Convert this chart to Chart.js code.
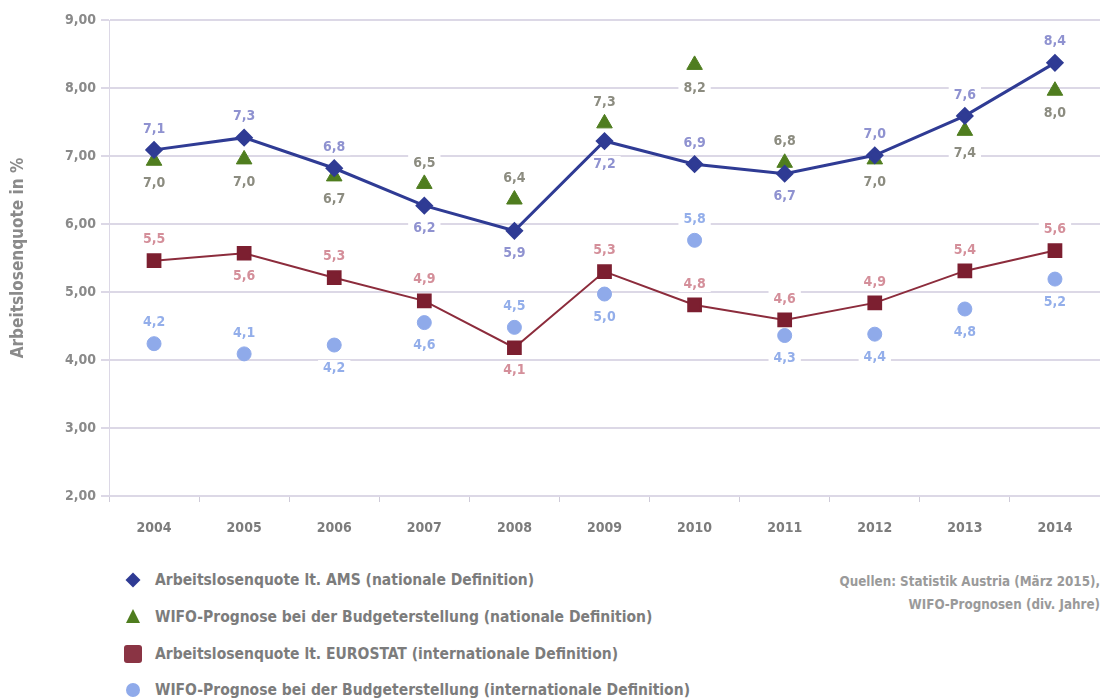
<!DOCTYPE html>
<html>
<head>
<meta charset="utf-8">
<script src="https://cdn.jsdelivr.net/npm/chart.js@4.4.1/dist/chart.umd.min.js"></script>
<style>
html,body{margin:0;padding:0;background:#fff;overflow:hidden;width:1100px;height:699px;}
#wrap{position:absolute;left:0;top:0;width:1111px;height:560px;}
#legend{position:absolute;left:122px;top:562px;font:bold 15.5px 'DejaVu Sans Condensed',sans-serif;color:#7c7c7c;}
#legend .item{height:36.7px;display:flex;align-items:center;white-space:nowrap;}
#legend svg{width:22px;height:22px;margin-right:11px;flex:none;}
#source{position:absolute;right:0;top:570px;font:bold 13.3px 'DejaVu Sans Condensed',sans-serif;color:#9a9a9a;text-align:right;line-height:23px;}
</style>
</head>
<body>
<div id="wrap"><canvas id="c"></canvas></div>
<div id="legend"></div>
<div id="source">Quellen: Statistik Austria (März 2015),<br>WIFO-Prognosen (div. Jahre)</div>
<script>
// ---- data ----
const years = ['2004','2005','2006','2007','2008','2009','2010','2011','2012','2013','2014'];
const amsRate          = [7.09, 7.27, 6.82, 6.27, 5.90, 7.22, 6.88, 6.74, 7.01, 7.59, 8.37];
const wifoNational     = [6.93, 6.95, 6.70, 6.59, 6.36, 7.48, 8.34, 6.90, 6.95, 7.37, 7.96];
const eurostatRate     = [5.46, 5.57, 5.21, 4.87, 4.18, 5.30, 4.81, 4.59, 4.84, 5.31, 5.61];
const wifoInternational= [4.24, 4.09, 4.22, 4.55, 4.48, 4.97, 5.76, 4.36, 4.38, 4.75, 5.19];
const amsLabels      = ['7,1','7,3','6,8','6,2','5,9','7,2','6,9','6,7','7,0','7,6','8,4'];
const wifoNatLabels  = ['7,0','7,0','6,7','6,5','6,4','7,3','8,2','6,8','7,0','7,4','8,0'];
const eurostatLabels = ['5,5','5,6','5,3','4,9','4,1','5,3','4,8','4,6','4,9','5,4','5,6'];
const wifoIntLabels  = ['4,2','4,1','4,2','4,6','4,5','5,0','5,8','4,3','4,4','4,8','5,2'];
// label placement: a = above point, b = below point
const amsSide      = ['a','a','a','b','b','b','a','b','a','a','a'];
const wifoNatSide  = ['b','b','b','a','a','a','b','a','b','b','b'];
const eurostatSide = ['a','b','a','a','b','a','a','a','a','a','a'];
const wifoIntSide  = ['a','a','b','b','a','b','a','b','b','b','b'];
const seriesNames = [
  'Arbeitslosenquote lt. AMS (nationale Definition)',
  'WIFO-Prognose bei der Budgeterstellung (nationale Definition)',
  'Arbeitslosenquote lt. EUROSTAT (internationale Definition)',
  'WIFO-Prognose bei der Budgeterstellung (internationale Definition)'
];
const yTitle = 'Arbeitslosenquote in %';

const FONT = "'DejaVu Sans Condensed', sans-serif";
const labelSets = [
  {text: amsLabels, side: amsSide, color: '#8f92d0'},
  {text: wifoNatLabels, side: wifoNatSide, color: '#8c8c80'},
  {text: eurostatLabels, side: eurostatSide, color: '#d48f9a'},
  {text: wifoIntLabels, side: wifoIntSide, color: '#93aeea'}
];

function labelPos(el, side){
  return {x: el.x, y: side === 'a' ? el.y - 21 : el.y + 23};
}

const valueLabels = {
  id: 'valueLabels',
  beforeDatasetsDraw(chart){
    const ctx = chart.ctx;
    ctx.save();
    ctx.font = 'bold 14px ' + FONT;
    ctx.fillStyle = '#ffffff';
    labelSets.forEach((ls, i) => {
      chart.getDatasetMeta(i).data.forEach((el, j) => {
        const p = labelPos(el, ls.side[j]);
        const w = ctx.measureText(ls.text[j]).width;
        ctx.fillRect(p.x - w/2 - 5, p.y - 8, w + 10, 16);
      });
    });
    ctx.restore();
  },
  afterDatasetsDraw(chart){
    const ctx = chart.ctx;
    ctx.save();
    ctx.font = 'bold 14px ' + FONT;
    ctx.textAlign = 'center';
    ctx.textBaseline = 'middle';
    labelSets.forEach((ls, i) => {
      ctx.fillStyle = ls.color;
      chart.getDatasetMeta(i).data.forEach((el, j) => {
        const p = labelPos(el, ls.side[j]);
        ctx.fillText(ls.text[j], p.x, p.y);
      });
    });
    ctx.restore();
  }
};

const chart = new Chart(document.getElementById('c'), {
  type: 'line',
  data: {
    labels: years,
    datasets: [
      {label: seriesNames[0], data: amsRate, borderColor: '#2f3b94', backgroundColor: '#2f3b94',
       borderWidth: 3, pointStyle: 'rectRot', pointRadius: 7, pointHoverRadius: 7, showLine: true, tension: 0},
      {label: seriesNames[1], data: wifoNational, borderColor: '#4f7d1f', backgroundColor: '#4f7d1f',
       showLine: false, pointStyle: 'triangle', pointRadius: 9, pointHoverRadius: 9},
      {label: seriesNames[2], data: eurostatRate, borderColor: '#8c2c3c', backgroundColor: '#7c1f30',
       borderWidth: 2, pointStyle: 'rect', pointRadius: 9, pointHoverRadius: 9, pointBorderColor: '#7c1f30', showLine: true, tension: 0},
      {label: seriesNames[3], data: wifoInternational, borderColor: '#8faaea', backgroundColor: '#8faaea',
       showLine: false, pointStyle: 'circle', pointRadius: 7, pointHoverRadius: 7}
    ]
  },
  options: {
    responsive: true,
    maintainAspectRatio: false,
    animation: false,
    layout: {padding: {top: 20, right: 0, left: 0, bottom: 0}},
    plugins: {legend: {display: false}, tooltip: {enabled: false}},
    scales: {
      x: {
        offset: true,
        grid: {display: true, drawOnChartArea: false, drawTicks: true, tickLength: 6, offset: true, color: '#cfcbd9', lineWidth: 1},
        border: {display: false},
        ticks: {color: '#7c7c7c', font: {family: FONT, size: 14, weight: 'bold'}, padding: 18},
        afterFit(s){ s.height = 64; }
      },
      y: {
        min: 2, max: 9,
        ticks: {stepSize: 1, color: '#8a8a8a', padding: 5, font: {family: FONT, size: 14, weight: 'bold'},
          callback: v => v.toFixed(2).replace('.', ',')},
        grid: {color: '#dcd8e6', lineWidth: 2, tickLength: 8, drawTicks: true},
        border: {display: true, color: '#dcd8e6', width: 1},
        title: {display: true, text: yTitle, color: '#8a8a8a', font: {family: FONT, size: 17, weight: 'bold'}, padding: {top: 8, bottom: 0}},
        afterFit(s){ s.width = 109; }
      }
    }
  },
  plugins: [valueLabels]
});

// HTML legend built from the chart's datasets
const legend = document.getElementById('legend');
chart.data.datasets.forEach(ds => {
  const c = ds.backgroundColor;
  let shape = '';
  if (ds.pointStyle === 'rectRot') shape = `<polygon points="11,3.5 18.5,11 11,18.5 3.5,11" fill="${c}"/>`;
  else if (ds.pointStyle === 'triangle') shape = `<polygon points="11,3 18,17 4,17" fill="${c}"/>`;
  else if (ds.pointStyle === 'rect') shape = `<rect x="2" y="2" width="18" height="18" rx="3" fill="#8a3444"/>`;
  else shape = `<circle cx="11" cy="11" r="7" fill="${c}"/>`;
  const div = document.createElement('div');
  div.className = 'item';
  div.innerHTML = `<svg viewBox="0 0 22 22">${shape}</svg><span>${ds.label}</span>`;
  legend.appendChild(div);
});
</script>
</body>
</html>
